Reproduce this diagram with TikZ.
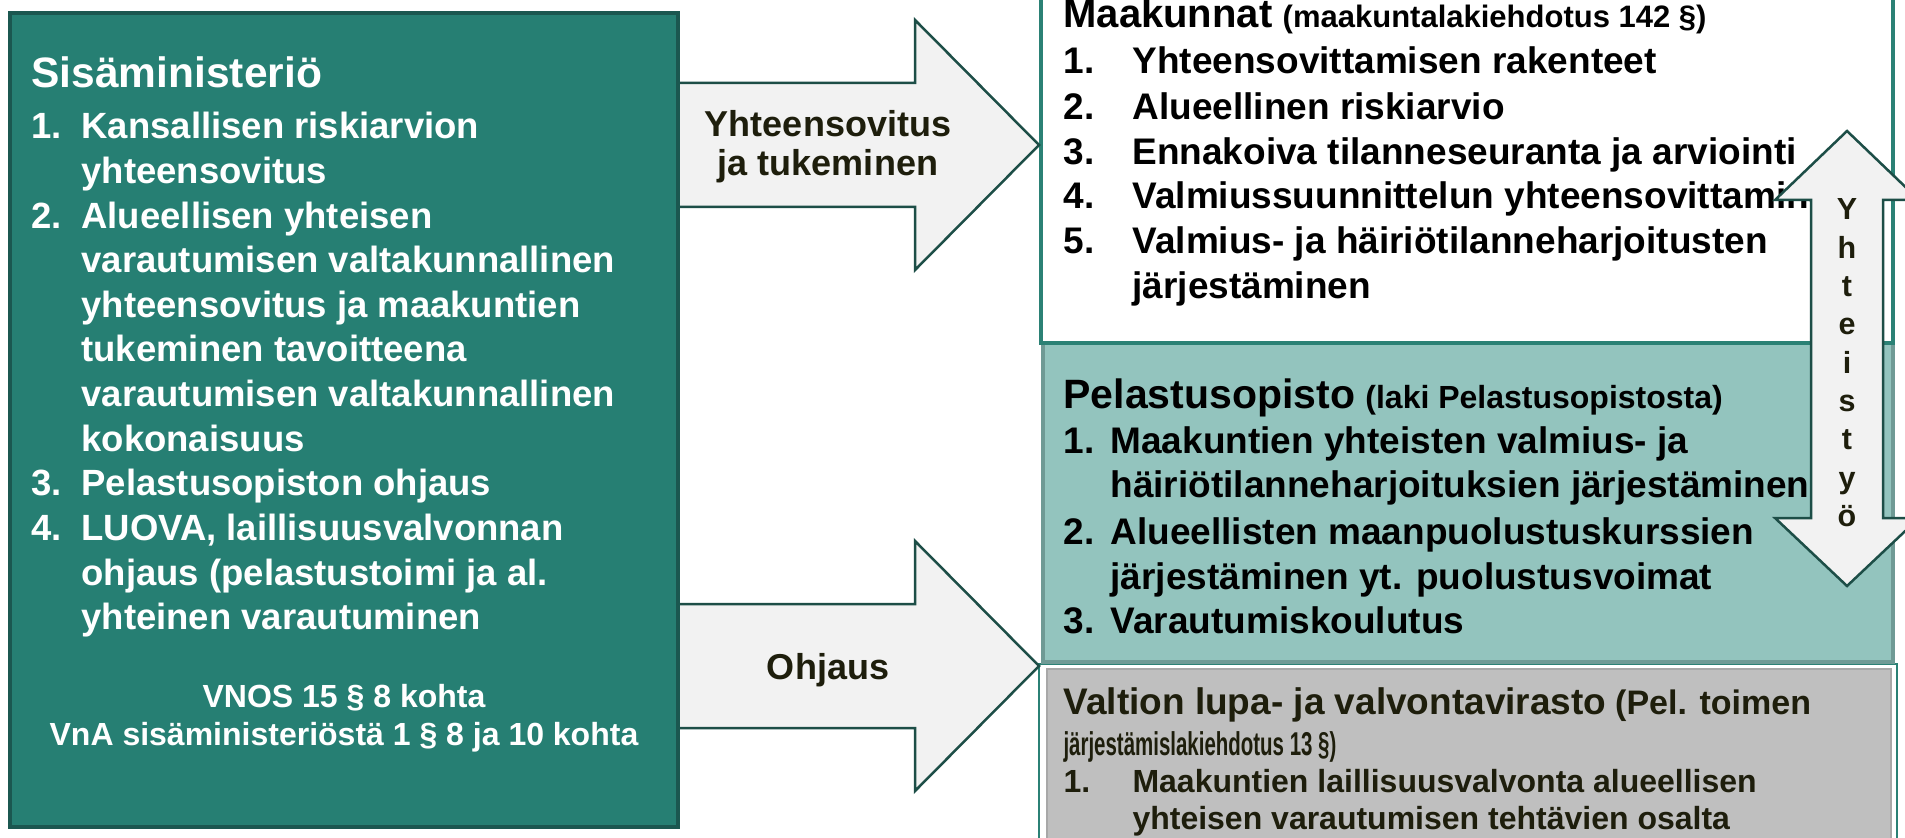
\documentclass[tikz,border=0pt]{standalone}
\usepackage{fontspec}
\setmainfont{Liberation Sans}
\usepackage{graphicx}
\definecolor{smfill}{HTML}{267F73}
\definecolor{smline}{HTML}{1B5750}
\definecolor{tealline}{HTML}{2B8175}
\definecolor{pelfill}{HTML}{93C4BE}
\definecolor{pelline}{HTML}{6F9A95}
\definecolor{grayfill}{HTML}{BFBFBF}
\definecolor{grayline}{HTML}{A8A8A8}
\definecolor{arrfill}{HTML}{F2F2F2}
\definecolor{arrline}{HTML}{1D4E47}
\definecolor{darktext}{HTML}{1E1E0C}
\tikzset{
  blockarrow/.style={fill=arrfill, draw=arrline, line width=1pt, line join=miter},
  wtext/.style={anchor=base west, inner sep=0pt, text=white, font=\bfseries\fontsize{14.6}{17}\selectfont},
  wcenter/.style={anchor=base, inner sep=0pt, text=white, font=\bfseries\fontsize{12.8}{15}\selectfont},
  arrtext/.style={anchor=base, inner sep=0pt, text=darktext, font=\bfseries\fontsize{14.4}{17}\selectfont},
  btext/.style={anchor=base west, inner sep=0pt, text=black, font=\bfseries\fontsize{14.8}{17}\selectfont},
  gtext/.style={anchor=base west, inner sep=0pt, text=darktext, font=\bfseries\fontsize{12.8}{15}\selectfont},
  ytext/.style={anchor=base, inner sep=0pt, text=darktext, font=\bfseries\fontsize{12.2}{14}\selectfont}
}
\begin{document}
\begin{tikzpicture}[x=0.4pt,y=-0.4pt]
\path[use as bounding box] (0,0) rectangle (1905,838);
\clip (0,0) rectangle (1905,838);
\fill[white] (0,0) rectangle (1905,838);

% right column boxes
\draw[fill=white, draw=tealline, line width=0.6pt] (1039,664) rectangle (1897,870);
\draw[fill=grayfill, draw=grayline, line width=0.6pt] (1047,669) rectangle (1891,870);
\draw[fill=pelfill, draw=pelline, line width=1.6pt] (1043,343) rectangle (1893,662);
\draw[fill=white, draw=tealline, line width=1.6pt] (1041,-40) rectangle (1893,343);

% block arrows from the ministry
\draw[blockarrow] (677,83) -- (915,83) -- (915,20) -- (1039,145) -- (915,270) -- (915,207) -- (677,207) -- cycle;
\draw[blockarrow] (677,604) -- (915,604) -- (915,541) -- (1039,666) -- (915,791) -- (915,728) -- (677,728) -- cycle;

% ministry box
\draw[fill=smfill, draw=smline, line width=1.6pt] (10,13) rectangle (678,827);

% ministry texts
\node[wtext, font=\bfseries\fontsize{17}{19}\selectfont] (smhead) at (31,88) {Sisäministeriö};
\node[wtext] (s1) at (31,139) {\makebox[20pt][l]{1.}Kansallisen riskiarvion};
\node[wtext] (s1b) at (81,183.6) {yhteensovitus};
\node[wtext] (s2) at (31,228.2) {\makebox[20pt][l]{2.}Alueellisen yhteisen};
\node[wtext] (s2b) at (81,272.8) {varautumisen valtakunnallinen};
\node[wtext] (s2c) at (81,317.4) {yhteensovitus ja maakuntien};
\node[wtext] (s2d) at (81,362) {tukeminen tavoitteena};
\node[wtext] (s2e) at (81,406.6) {varautumisen valtakunnallinen};
\node[wtext] (s2f) at (81,451.2) {kokonaisuus};
\node[wtext] (s3) at (31,495.8) {\makebox[20pt][l]{3.}Pelastusopiston ohjaus};
\node[wtext] (s4) at (31,540.4) {\makebox[20pt][l]{4.}LUOVA, laillisuusvalvonnan};
\node[wtext] (s4b) at (81,585) {ohjaus (pelastustoimi ja al.};
\node[wtext] (s4c) at (81,629.6) {yhteinen varautuminen};
\node[wcenter] (law1) at (344,707) {VNOS 15 § 8 kohta};
\node[wcenter] (law2) at (344,745) {VnA sisäministeriöstä 1 § 8 ja 10 kohta};

% arrow labels
\node[arrtext] (lab1) at (828,137) {Yhteensovitus};
\node[arrtext] (lab1b) at (828,176) {ja tukeminen};
\node[arrtext] (lab2) at (828,679) {Ohjaus};

% Maakunnat
\node[btext] (mhead) at (1063,28) {{\fontsize{16}{18}\selectfont Maakunnat} {\fontsize{12.4}{14}\selectfont(maakuntalakiehdotus 142 §)}};
\node[btext] (m1) at (1063,74) {\makebox[27.6pt][l]{1.}Yhteensovittamisen rakenteet};
\node[btext] (m2) at (1063,120) {\makebox[27.6pt][l]{2.}Alueellinen riskiarvio};
\node[btext] (m3) at (1063,165) {\makebox[27.6pt][l]{3.}Ennakoiva tilanneseuranta ja arviointi};
\begin{scope}
\clip (1041,0) rectangle (1811,260);
\node[btext] (m4) at (1063,209) {\makebox[27.6pt][l]{4.}Valmiussuunnittelun yhteensovittaminen};
\end{scope}
\node[btext] (m5) at (1063,254) {\makebox[27.6pt][l]{5.}Valmius- ja häiriötilanneharjoitusten};
\node[btext] (m5b) at (1132,299) {järjestäminen};

% Pelastusopisto
\node[btext] (phead) at (1063,409) {{\fontsize{16.4}{18}\selectfont Pelastusopisto} {\fontsize{12.8}{14}\selectfont(laki Pelastusopistosta)}};
\node[btext] (p1) at (1063,453) {\makebox[18.8pt][l]{1.}Maakuntien yhteisten valmius- ja};
\node[btext] (p1b) at (1110,497) {häiriötilanneharjoituksien järjestäminen};
\node[btext] (p2) at (1063,544) {\makebox[18.8pt][l]{2.}Alueellisten maanpuolustuskurssien};
\node[btext] (p2b) at (1110,589) {järjestäminen yt. puolustusvoimat};
\node[btext] (p3) at (1063,633) {\makebox[18.8pt][l]{3.}Varautumiskoulutus};

% Valtion lupa- ja valvontavirasto
\node[gtext] (vhead) at (1063,714) {{\fontsize{14.8}{17}\selectfont Valtion lupa- ja valvontavirasto} {\fontsize{13.6}{15}\selectfont(Pel. toimen}};
\node[gtext, font=\bfseries\fontsize{13.2}{15}\selectfont] (vhead2) at (1063,755) {\scalebox{0.62}[1]{järjestämislakiehdotus 13 §)}};
\node[gtext] (v1) at (1063,792) {\makebox[27.6pt][l]{1.}Maakuntien laillisuusvalvonta alueellisen};
\node[gtext] (v1b) at (1132,829) {yhteisen varautumisen tehtävien osalta};

% cooperation double arrow
\draw[blockarrow] (1847,131) -- (1919,200) -- (1883,200) -- (1883,518) -- (1919,518) -- (1847,586) -- (1775,518) -- (1811,518) -- (1811,200) -- (1775,200) -- cycle;
\foreach \c [count=\i from 0] in {Y,h,t,e,i,s,t,y,ö}
  \node[ytext] (yt\i) at (1847,220+38.3*\i) {\c};
\end{tikzpicture}
\end{document}
